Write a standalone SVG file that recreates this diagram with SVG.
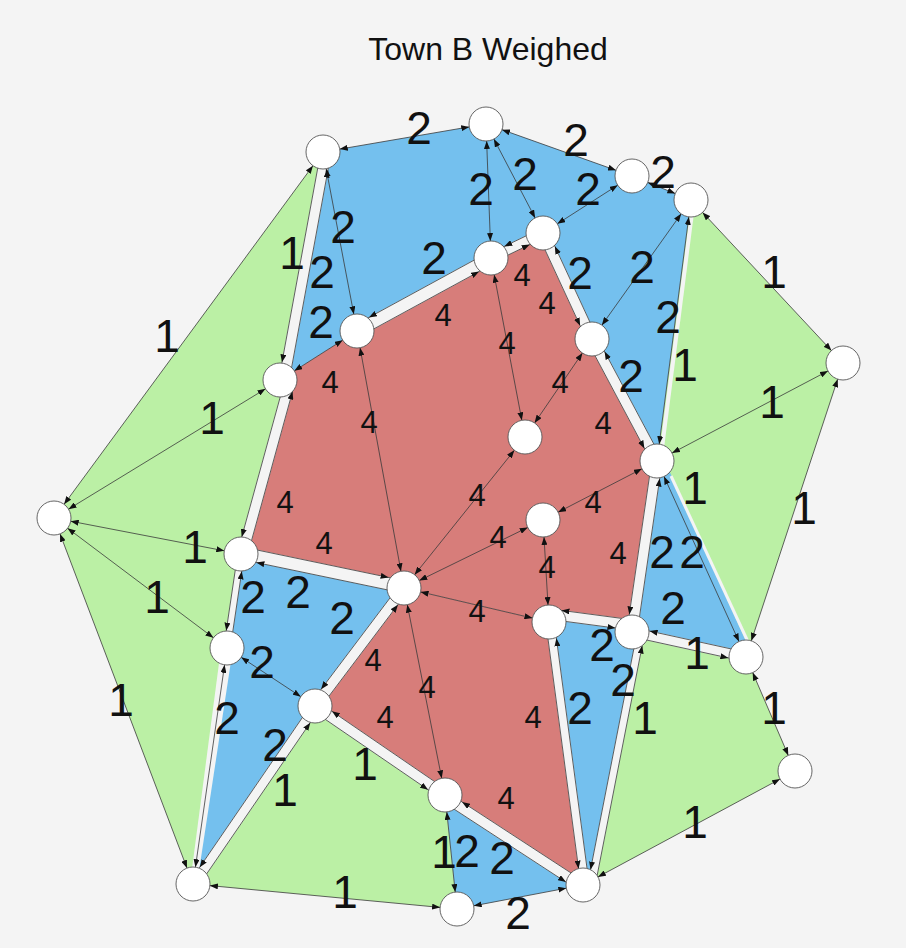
<svg xmlns="http://www.w3.org/2000/svg" width="906" height="948" viewBox="0 0 906 948">
<style>
.g{fill:#bbf0a5}.b{fill:#74c0ee}.r{fill:#d77d7a}
.rd{stroke:#f4f4f4;fill:none;stroke-linecap:butt}
.e{stroke:#3a3a3a;stroke-width:0.8;fill:none}
.n{fill:#fff;stroke:#555;stroke-width:0.9}
.L{font-family:"Liberation Sans",Arial,sans-serif;font-size:46px;fill:#111;text-anchor:middle}
.S{font-family:"Liberation Sans",Arial,sans-serif;font-size:31px;fill:#111;text-anchor:middle}
.T{font-family:"Liberation Sans",Arial,sans-serif;font-size:32px;fill:#111;text-anchor:middle}
</style>
<defs>
<marker id="mA" viewBox="0 0 8 6" refX="25" refY="3" markerWidth="8" markerHeight="6" markerUnits="userSpaceOnUse" orient="auto-start-reverse"><path d="M0,0 L8,3 L0,6 z" fill="#111"/></marker>
<marker id="mB" viewBox="0 0 8 6" refX="8" refY="3" markerWidth="8" markerHeight="6" markerUnits="userSpaceOnUse" orient="auto-start-reverse"><path d="M0,0 L8,3 L0,6 z" fill="#111"/></marker>
</defs>
<rect x="0" y="0" width="906" height="948" fill="#f4f4f4"/>
<text class="T" x="488" y="60">Town B Weighed</text>

<g id="regions">
<polygon class="g" points="54,518 323,152 284,380 290,381 243,552 241,554 227,648 193,884"/>
<polygon class="g" points="691,200 843,363 746,657 657,461"/>
<polygon class="g" points="632,632 746,657 795,771 583,885 592,882 641,632"/>
<polygon class="g" points="193,884 315,706 445,795 457,909"/>
<polygon class="b" points="323,152 486,124 632,176 691,200 657,461 592,339 543,233 491,258 357,331 280,380"/>
<polygon class="b" points="241,554 404,588 315,706 193,884 227,648"/>
<polygon class="b" points="657,461 668,468 750,650 746,657 632,632"/>
<polygon class="b" points="549,614 632,625 641,632 592,882 583,885 549,622"/>
<polygon class="b" points="445,795 583,885 457,909"/>
<polygon class="r" points="280,380 357,331 491,258 543,233 592,339 657,461 632,632 632,625 549,614 549,622 404,588 241,554 243,552 290,381"/>
<polygon class="r" points="404,588 549,622 583,885 445,795 315,706"/>
</g>

<g id="roads">
<path class="rd" stroke-width="11" d="M326,152 L284,380"/>
<path class="rd" stroke-width="11" d="M290,381 L243,552"/>
<path class="rd" stroke-width="7" d="M241,554 L227,648"/>
<polygon points="221,648 233,648 197,884 190,884" fill="#f4f4f4"/>
<path class="rd" stroke-width="10" d="M316,706 L194,884"/>
<path class="rd" stroke-width="11" d="M315,706 L445,795"/>
<path class="rd" stroke-width="11" d="M445,797 L583,887"/>
<path class="rd" stroke-width="9" d="M550,622 L585,885"/>
<path class="rd" stroke-width="8" d="M641,632 L592,882"/>
<path class="rd" stroke-width="11" d="M549,614 L632,625"/>
<path class="rd" stroke-width="10" d="M632,632 L746,657"/>
<path class="rd" stroke-width="3" d="M671,476 L749,644"/>
<path class="rd" stroke-width="4" d="M693,205 L661,456"/>
<path class="rd" stroke-width="11" d="M657,461 L632,632"/>
<path class="rd" stroke-width="11" d="M592,339 L657,461"/>
<path class="rd" stroke-width="11" d="M543,233 L592,339"/>
<path class="rd" stroke-width="10" d="M543,233 L491,258"/>
<path class="rd" stroke-width="13" d="M491,258 L357,331"/>
<path class="rd" stroke-width="13" d="M241,553 L404,587"/>
<path class="rd" stroke-width="11" d="M404,588 L315,706"/>
</g>

<g id="connectors">
<g marker-start="url(#mA)" marker-end="url(#mA)">
<path class="e" d="M54,518 L323,152"/>
<path class="e" d="M193,884 L54,518"/>
<path class="e" d="M54,518 L280,380"/>
<path class="e" d="M54,518 L241,554"/>
<path class="e" d="M54,518 L227,648"/>
<path class="e" d="M227,648 L193,884"/>
<path class="e" d="M691,200 L843,363"/>
<path class="e" d="M843,363 L746,657"/>
<path class="e" d="M657,461 L746,657"/>
<path class="e" d="M657,461 L691,200"/>
<path class="e" d="M657,461 L843,363"/>
<path class="e" d="M746,657 L795,771"/>
<path class="e" d="M795,771 L583,885"/>
<path class="e" d="M445,795 L457,909"/>
<path class="e" d="M457,909 L193,884"/>
<path class="e" d="M323,152 L486,124"/>
<path class="e" d="M486,124 L632,176"/>
<path class="e" d="M632,176 L691,200"/>
<path class="e" d="M357,331 L280,380"/>
<path class="e" d="M323,152 L357,331"/>
<path class="e" d="M486,124 L491,258"/>
<path class="e" d="M486,124 L543,233"/>
<path class="e" d="M632,176 L543,233"/>
<path class="e" d="M691,200 L592,339"/>
<path class="e" d="M227,648 L315,706"/>
<path class="e" d="M583,885 L457,909"/>
<path class="e" d="M549,622 L404,588"/>
<path class="e" d="M357,331 L404,588"/>
<path class="e" d="M491,258 L525,437"/>
<path class="e" d="M592,339 L525,437"/>
<path class="e" d="M525,437 L404,588"/>
<path class="e" d="M543,520 L404,588"/>
<path class="e" d="M657,461 L543,520"/>
<path class="e" d="M543,520 L549,622"/>
<path class="e" d="M404,588 L445,795"/>
</g>
<g marker-end="url(#mA)">
<path class="e" d="M320.89,151.06 L278.89,379.06"/>
<path class="e" d="M237.74,553.51 L223.74,647.51"/>
<path class="e" d="M312.12,703.34 L190.12,881.34"/>
<path class="e" d="M312.06,710.29 L442.06,799.29"/>
<path class="e" d="M442.16,801.36 L580.16,891.36"/>
<path class="e" d="M545.84,622.55 L580.84,885.55"/>
<path class="e" d="M630.99,636.59 L744.99,661.59"/>
<path class="e" d="M651.85,460.25 L626.85,631.25"/>
<path class="e" d="M587.41,341.45 L652.41,463.45"/>
<path class="e" d="M538.28,235.18 L587.28,341.18"/>
<path class="e" d="M540.96,228.76 L488.96,253.76"/>
<path class="e" d="M488.03,252.56 L354.03,325.56"/>
<path class="e" d="M242.27,546.93 L405.27,580.93"/>
<path class="e" d="M399.85,584.87 L310.85,702.87"/>
</g>
<g marker-start="url(#mA)">
<path class="e" d="M331.11,152.94 L289.11,380.94"/>
<path class="e" d="M244.26,554.49 L230.26,648.49"/>
<path class="e" d="M319.88,708.66 L197.88,886.66"/>
<path class="e" d="M317.94,701.71 L447.94,790.71"/>
<path class="e" d="M447.84,792.64 L585.84,882.64"/>
<path class="e" d="M554.16,621.45 L589.16,884.45"/>
<path class="e" d="M633.01,627.41 L747.01,652.41"/>
<path class="e" d="M662.15,461.75 L637.15,632.75"/>
<path class="e" d="M596.59,336.55 L661.59,458.55"/>
<path class="e" d="M547.72,230.82 L596.72,336.82"/>
<path class="e" d="M545.04,237.24 L493.04,262.24"/>
<path class="e" d="M493.97,263.44 L359.97,336.44"/>
<path class="e" d="M239.73,559.07 L402.73,593.07"/>
<path class="e" d="M408.15,591.13 L319.15,709.13"/>
</g>
<g marker-end="url(#mB)">
<path class="e" d="M284.99,379.62 L241.73,537.01"/>
<path class="e" d="M637.27,631.27 L590.53,869.76"/>
<path class="e" d="M548.32,619.15 L615.47,628.05"/>
</g>
<g marker-start="url(#mB)">
<path class="e" d="M292.5,391.5 L248.01,553.38"/>
<path class="e" d="M642.21,645.59 L595.73,882.73"/>
<path class="e" d="M561.44,610.41 L632.68,619.85"/>
</g>
</g>

<g id="nodes">
<g id="n1"><circle class="n" cx="323" cy="152" r="17"/></g>
<g id="n2"><circle class="n" cx="486" cy="124" r="17"/></g>
<g id="n3"><circle class="n" cx="632" cy="176" r="17"/></g>
<g id="n4"><circle class="n" cx="691" cy="200" r="17"/></g>
<g id="n5"><circle class="n" cx="543" cy="233" r="17"/></g>
<g id="n6"><circle class="n" cx="491" cy="258" r="17"/></g>
<g id="n7"><circle class="n" cx="357" cy="331" r="17"/></g>
<g id="n8"><circle class="n" cx="592" cy="339" r="17"/></g>
<g id="n9"><circle class="n" cx="843" cy="363" r="17"/></g>
<g id="n10"><circle class="n" cx="280" cy="380" r="17"/></g>
<g id="n11"><circle class="n" cx="525" cy="437" r="17"/></g>
<g id="n12"><circle class="n" cx="657" cy="461" r="17"/></g>
<g id="n13"><circle class="n" cx="54" cy="518" r="17"/></g>
<g id="n14"><circle class="n" cx="543" cy="520" r="17"/></g>
<g id="n15"><circle class="n" cx="241" cy="554" r="17"/></g>
<g id="n16"><circle class="n" cx="404" cy="588" r="17"/></g>
<g id="n17"><circle class="n" cx="549" cy="622" r="17"/></g>
<g id="n18"><circle class="n" cx="632" cy="632" r="17"/></g>
<g id="n19"><circle class="n" cx="746" cy="657" r="17"/></g>
<g id="n20"><circle class="n" cx="227" cy="648" r="17"/></g>
<g id="n21"><circle class="n" cx="315" cy="706" r="17"/></g>
<g id="n22"><circle class="n" cx="795" cy="771" r="17"/></g>
<g id="n23"><circle class="n" cx="445" cy="795" r="17"/></g>
<g id="n24"><circle class="n" cx="193" cy="884" r="17"/></g>
<g id="n25"><circle class="n" cx="583" cy="885" r="17"/></g>
<g id="n26"><circle class="n" cx="457" cy="909" r="17"/></g>
</g>

<g id="labels">
<text class="L" x="419" y="144">2</text>
<text class="L" x="576" y="156">2</text>
<text class="L" x="663" y="188">2</text>
<text class="L" x="481" y="205">2</text>
<text class="L" x="525" y="190">2</text>
<text class="L" x="588" y="205">2</text>
<text class="L" x="343" y="243">2</text>
<text class="L" x="292" y="269">1</text>
<text class="L" x="322" y="288">2</text>
<text class="L" x="434" y="274">2</text>
<text class="L" x="321" y="338">2</text>
<text class="L" x="580" y="289">2</text>
<text class="L" x="642" y="283">2</text>
<text class="L" x="668" y="333">2</text>
<text class="L" x="685" y="381">1</text>
<text class="L" x="631" y="392">2</text>
<text class="L" x="774" y="288">1</text>
<text class="L" x="772" y="418">1</text>
<text class="L" x="804" y="524">1</text>
<text class="L" x="695" y="504">1</text>
<text class="L" x="662" y="568">2</text>
<text class="L" x="692" y="568">2</text>
<text class="L" x="673" y="624">2</text>
<text class="L" x="253" y="613">2</text>
<text class="L" x="298" y="608">2</text>
<text class="L" x="342" y="634">2</text>
<text class="L" x="262" y="678">2</text>
<text class="L" x="227" y="734">2</text>
<text class="L" x="275" y="761">2</text>
<text class="L" x="285" y="806">1</text>
<text class="L" x="365" y="780">1</text>
<text class="L" x="444" y="868">1</text>
<text class="L" x="467" y="867">2</text>
<text class="L" x="502" y="874">2</text>
<text class="L" x="518" y="929">2</text>
<text class="L" x="345" y="908">1</text>
<text class="L" x="580" y="724">2</text>
<text class="L" x="602" y="661">2</text>
<text class="L" x="623" y="696">2</text>
<text class="L" x="645" y="734">1</text>
<text class="L" x="697" y="669">1</text>
<text class="L" x="774" y="724">1</text>
<text class="L" x="695" y="838">1</text>
<text class="L" x="121" y="716">1</text>
<text class="L" x="167" y="352">1</text>
<text class="L" x="212" y="434">1</text>
<text class="L" x="195" y="563">1</text>
<text class="L" x="157" y="613">1</text>
<text class="S" x="443" y="326">4</text>
<text class="S" x="522" y="286">4</text>
<text class="S" x="547" y="314">4</text>
<text class="S" x="507" y="354">4</text>
<text class="S" x="330" y="393">4</text>
<text class="S" x="369" y="433">4</text>
<text class="S" x="285" y="513">4</text>
<text class="S" x="324" y="554">4</text>
<text class="S" x="560" y="393">4</text>
<text class="S" x="603" y="434">4</text>
<text class="S" x="593" y="513">4</text>
<text class="S" x="618" y="564">4</text>
<text class="S" x="547" y="578">4</text>
<text class="S" x="498" y="548">4</text>
<text class="S" x="477" y="506">4</text>
<text class="S" x="477" y="622">4</text>
<text class="S" x="373" y="671">4</text>
<text class="S" x="385" y="728">4</text>
<text class="S" x="427" y="698">4</text>
<text class="S" x="506" y="809">4</text>
<text class="S" x="533" y="728">4</text>
</g>
</svg>
